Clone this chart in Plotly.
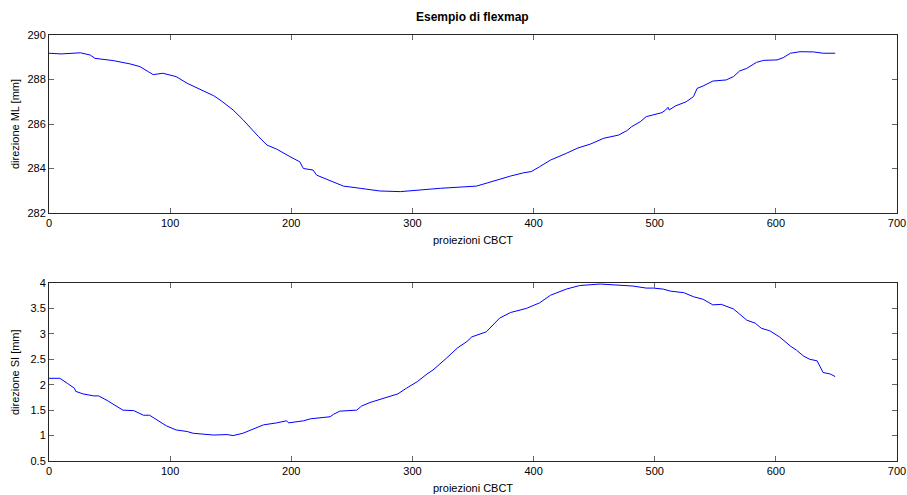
import plotly.graph_objects as go

# Top subplot: direzione ML [mm]
x_ml = [0, 10, 26, 34, 38, 53, 67, 75, 82, 86, 94, 105, 114, 125, 136, 142, 152, 160, 168, 173,
        180, 188, 199, 207, 210, 218, 221, 235, 243, 257, 273, 290, 304, 323, 353, 356, 367, 381,
        392, 398, 405, 414, 427, 436, 447, 458, 470, 477, 481, 488, 493, 499, 506, 509, 511, 512,
        517, 526, 532, 535, 540, 548, 559, 565, 570, 576, 584, 590, 601, 606, 612, 620, 631, 639, 649]
y_ml = [289.18, 289.15, 289.2, 289.1, 288.95, 288.85, 288.7, 288.58, 288.35, 288.22, 288.28, 288.13,
        287.83, 287.56, 287.27, 287.05, 286.63, 286.2, 285.7, 285.43, 285.05, 284.87, 284.53, 284.3,
        284.0, 283.93, 283.7, 283.41, 283.21, 283.11, 282.99, 282.96, 283.03, 283.11, 283.21, 283.26,
        283.44, 283.66, 283.81, 283.86, 284.08, 284.38, 284.68, 284.91, 285.1, 285.36, 285.5, 285.7,
        285.88, 286.1, 286.33, 286.4, 286.51, 286.63, 286.75, 286.63, 286.81, 287.0, 287.23, 287.6,
        287.71, 287.93, 287.98, 288.13, 288.38, 288.5, 288.77, 288.86, 288.88, 288.98, 289.18, 289.25,
        289.24, 289.18, 289.18]

# Bottom subplot: direzione SI [mm]
x_si = [0, 9, 15, 21, 22, 28, 37, 41, 48, 54, 61, 70, 78, 83, 89, 97, 105, 114, 119, 127, 136, 147,
        152, 160, 169, 177, 188, 196, 198, 210, 216, 232, 235, 240, 254, 258, 265, 273, 284, 288, 295,
        304, 312, 317, 328, 337, 345, 349, 361, 372, 381, 394, 405, 414, 427, 438, 455, 482, 493, 499,
        507, 513, 524, 532, 540, 548, 555, 565, 576, 583, 588, 595, 603, 612, 617, 623, 628, 634, 639,
        645, 649]
y_si = [2.126, 2.126, 2.03, 1.93, 1.87, 1.82, 1.78, 1.78, 1.69, 1.60, 1.50, 1.49, 1.40, 1.40, 1.31,
        1.19, 1.11, 1.08, 1.045, 1.025, 1.01, 1.02, 1.00, 1.045, 1.14, 1.21, 1.25, 1.29, 1.25, 1.29,
        1.33, 1.37, 1.42, 1.48, 1.50, 1.58, 1.65, 1.71, 1.78, 1.82, 1.93, 2.06, 2.21, 2.29, 2.52, 2.72,
        2.85, 2.94, 3.04, 3.31, 3.42, 3.50, 3.61, 3.76, 3.88, 3.95, 3.98, 3.94, 3.90, 3.90, 3.88, 3.84,
        3.81, 3.73, 3.68, 3.57, 3.58, 3.49, 3.27, 3.21, 3.11, 3.06, 2.94, 2.76, 2.68, 2.56, 2.50, 2.47,
        2.24, 2.21, 2.16]

x_ticks = [0, 100, 200, 300, 400, 500, 600, 700]
ml_ticks = [282, 284, 286, 288, 290]
si_ticks = [0.5, 1, 1.5, 2, 2.5, 3, 3.5, 4]
si_ticklabels = ["0.5", "1", "1.5", "2", "2.5", "3", "3.5", "4"]

title_text = "Esempio di flexmap"
xlabel = "proiezioni CBCT"
ylabel_ml = "direzione ML [mm]"
ylabel_si = "direzione SI [mm]"

W, H = 907, 495
L, R = 49, 897
top_y0, top_y1 = 35, 213
bot_y0, bot_y1 = 283, 461

fig = go.Figure()
fig.add_trace(go.Scatter(x=x_ml, y=y_ml, mode="lines", line=dict(color="#0000ff", width=1),
                         xaxis="x", yaxis="y", showlegend=False, hoverinfo="x+y"))
fig.add_trace(go.Scatter(x=x_si, y=y_si, mode="lines", line=dict(color="#0000ff", width=1),
                         xaxis="x2", yaxis="y2", showlegend=False, hoverinfo="x+y"))

font = dict(family="Liberation Sans, Arial, sans-serif", size=11, color="#000000")

axis_common = dict(showline=True, linecolor="#262626", linewidth=1, mirror="allticks",
                   ticks="inside", ticklen=5, tickcolor="#666666", tickwidth=1,
                   showgrid=False, zeroline=False, tickfont=font, automargin=False)

fig.update_layout(
    template="none",
    width=W, height=H,
    margin=dict(l=0, r=0, t=0, b=0, pad=0),
    paper_bgcolor="white", plot_bgcolor="white",
    font=font,
    xaxis=dict(domain=[L / W, R / W], range=[0, 700], tickvals=x_ticks, anchor="y", **axis_common),
    yaxis=dict(domain=[1 - top_y1 / H, 1 - top_y0 / H], range=[282, 290], tickvals=ml_ticks,
               anchor="x", **axis_common),
    xaxis2=dict(domain=[L / W, R / W], range=[0, 700], tickvals=x_ticks, anchor="y2", **axis_common),
    yaxis2=dict(domain=[1 - bot_y1 / H, 1 - bot_y0 / H], range=[0.5, 4], tickvals=si_ticks,
                ticktext=si_ticklabels, anchor="x2", **axis_common),
    annotations=[
        dict(text="<b>" + title_text + "</b>", x=(L + R) / 2 / W, y=1 - 17 / H, xref="paper", yref="paper",
             showarrow=False, xanchor="center", yanchor="middle",
             font=dict(family="Liberation Sans, Arial, sans-serif", size=12, color="#000000")),
        dict(text=xlabel, x=(L + R) / 2 / W, y=1 - 240 / H, xref="paper", yref="paper",
             showarrow=False, xanchor="center", yanchor="middle", font=font),
        dict(text=xlabel, x=(L + R) / 2 / W, y=1 - 488 / H, xref="paper", yref="paper",
             showarrow=False, xanchor="center", yanchor="middle", font=font),
        dict(text=ylabel_ml, x=15 / W, y=1 - (top_y0 + top_y1) / 2 / H, xref="paper", yref="paper",
             showarrow=False, xanchor="center", yanchor="middle", textangle=-90, font=font),
        dict(text=ylabel_si, x=15 / W, y=1 - (bot_y0 + bot_y1) / 2 / H, xref="paper", yref="paper",
             showarrow=False, xanchor="center", yanchor="middle", textangle=-90, font=font),
    ],
)

fig.write_html("out.html", config={"displayModeBar": False},
               post_script="document.body.style.margin='0';document.body.style.overflow='hidden';")
